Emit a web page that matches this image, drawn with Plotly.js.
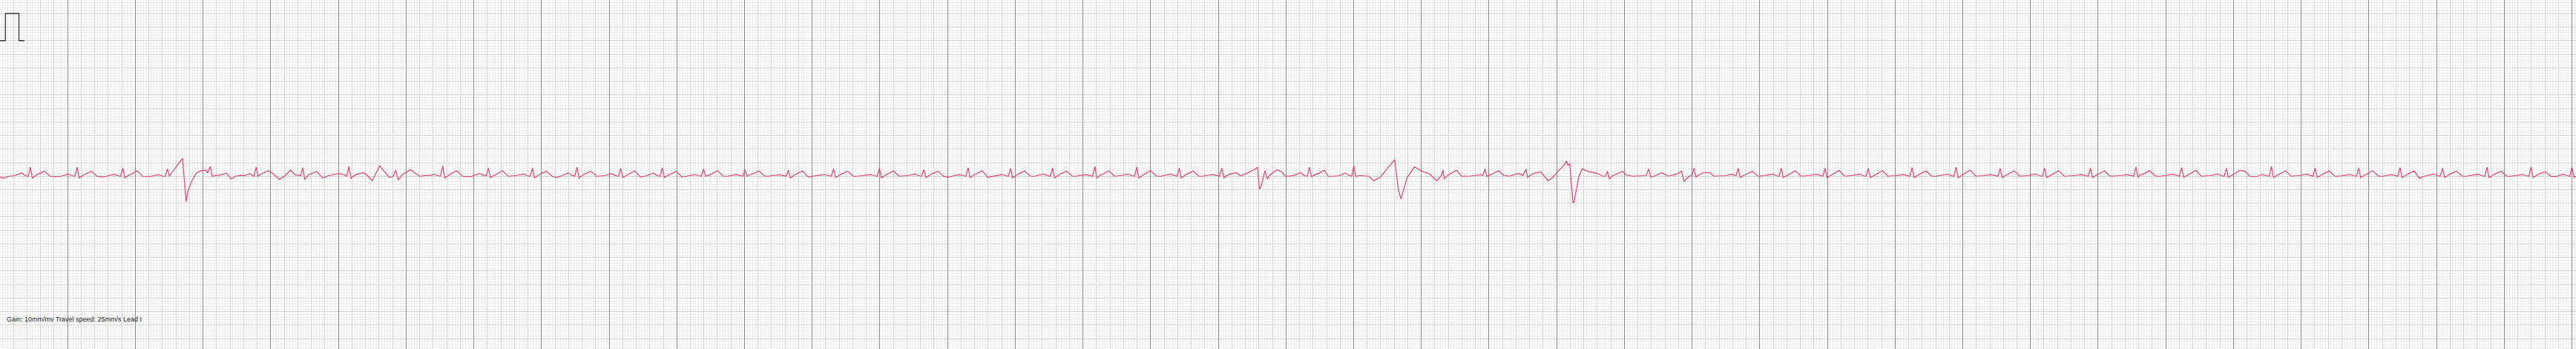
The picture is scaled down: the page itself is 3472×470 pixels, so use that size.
<!DOCTYPE html>
<html><head><meta charset="utf-8">
<script src="https://cdn.plot.ly/plotly-3.0.1.min.js"></script>
<style>html,body{margin:0;padding:0;background:#fff;overflow:hidden}#chart{width:3472px;height:470px}</style>
</head><body><div id="chart"></div>
<script>
// Lead I trace, time in seconds, amplitude in mV (read from the strip)
const tA=[0.000,0.055,0.13,0.22,0.319,0.372,0.416,0.449,0.479,0.526,0.579,0.657,0.739,0.809,
0.900,1.010,1.063,1.107,1.140,1.170,1.217,1.270,1.348,1.430,1.500,
1.576,1.686,1.739,1.783,1.816,1.846,1.893,1.946,2.024,2.106,2.176,
2.235,2.345,2.398,2.442,2.475,2.502,2.696,2.751,2.777,2.831,2.905,2.978,3.040,3.069,
3.106,3.135,3.20,3.28,3.343,3.417,3.48,3.56,3.62,3.691,3.752,
3.785,3.811,3.86,3.965,4.03,4.129,4.20,4.293,4.36,4.441,
4.474,4.502,4.56,4.677,4.768,4.85,4.95,5.006,5.10,5.125,
5.155,5.188,5.25,5.371,5.43,5.499,5.609,5.755,5.81,
5.847,5.884,5.94,6.065,6.193,6.28,6.38,
6.411,6.464,6.508,6.541,6.571,6.618,6.671,6.749,6.831,6.901];
const vA=[-0.03,-0.08,0.0,0.02,0.12,0.02,0.0,0.33,-0.08,0.02,0.10,0.18,0.0,-0.02,
0.0,0.08,0.02,0.0,0.33,-0.07,0.02,0.09,0.18,0.0,-0.03,
0.0,0.07,0.02,0.0,0.30,-0.07,0.02,0.08,0.20,0.0,-0.02,
0.0,0.06,0.0,0.0,0.27,0.0,0.66,-0.94,-0.55,-0.19,0.13,0.20,0.22,0.12,
0.36,0.0,0.02,0.06,0.12,-0.10,0.0,0.03,0.02,0.10,0.0,
0.33,0.0,0.08,0.20,0.10,-0.12,0.0,0.22,0.05,0.02,
0.31,-0.12,0.05,0.18,-0.07,0.02,0.06,0.10,0.04,0.0,
0.36,-0.08,0.05,0.13,0.02,-0.17,0.38,-0.05,0.0,
0.22,-0.14,0.05,0.24,0.0,0.02,0.03,
0.08,0.02,0.0,0.38,-0.07,0.02,0.10,0.20,0.0,-0.02];

const tB=[6.976,7.086,7.139,7.183,7.216,7.246,7.293,7.346,7.424,7.506,7.576,
7.627,7.737,7.790,7.834,7.867,7.897,7.944,7.997,8.075,8.157,8.221,
8.285,8.395,8.448,8.492,8.525,8.555,8.602,8.655,8.733,8.815,8.885,
8.931,9.041,9.094,9.138,9.171,9.201,9.248,9.301,9.379,9.461,9.531,
9.655,9.708,9.752,9.785,9.815,9.862,9.915,9.993,10.075,10.145,
10.265,10.318,10.362,10.395,10.425,10.472,10.525,10.603,10.685,10.755,
10.878,10.931,10.975,11.008,11.038,11.085,11.138,11.216,11.298,11.368,
11.409,11.519,11.572,11.616,11.649,11.679,11.726,11.779,11.857,11.939,12.009,
12.076,12.186,12.239,12.283,12.316,12.346,12.393,12.446,12.524,12.606,12.676,
12.754,12.864,12.917,12.961,12.994,13.024,13.071,13.124,13.202,13.284,13.354,
13.410,13.520,13.573,13.617,13.650,13.680,13.727,13.780,13.858,13.940,14.010,
14.063,14.173,14.226,14.270,14.303,14.333,14.380,14.433,14.511,14.593,14.663,
14.691,14.801,14.854,14.898,14.931,14.961,15.008,15.061,15.139,15.221,15.291,
15.312,15.422,15.475,15.519,15.552,15.582,15.629,15.682,15.760,15.842,15.912,
15.936,16.046,16.099,16.143,16.176,16.206,16.253,16.306,16.384,16.466,16.536,
16.556,16.666,16.719,16.763,16.796,16.826,16.873,16.926,17.004,17.086,17.156,
17.184,17.294,17.347,17.391,17.424,17.454,17.501,17.554,17.632,17.714,17.784,
17.812,17.922,17.975,18.019,18.052,18.082,18.129,18.18,18.269,18.324,
18.415,18.525,18.580,18.609,18.634,18.689,18.725,18.762,18.872,18.941,18.982,19.05,19.12];
const vB=[0.0,0.10,0.03,0.01,0.30,-0.05,0.02,0.08,0.20,0.0,0.0,
0.02,0.08,0.02,0.0,0.30,-0.06,0.02,0.10,0.18,0.0,-0.05,
0.0,0.12,0.03,0.0,0.33,-0.07,0.03,0.10,0.18,0.0,0.0,
0.02,0.09,0.02,0.0,0.29,-0.05,0.02,0.10,0.20,-0.03,0.0,
0.11,0.02,0.0,0.31,-0.05,0.02,0.09,0.18,-0.03,0.0,
0.06,0.02,0.0,0.26,0.0,0.03,0.10,0.20,0.0,0.0,
0.06,0.02,0.0,0.24,0.0,0.06,0.10,0.19,0.0,0.0,
0.02,0.05,0.02,0.0,0.22,-0.07,0.02,0.10,0.19,-0.03,0.0,
0.02,0.06,0.02,0.0,0.27,-0.05,0.02,0.10,0.18,0.0,0.0,
0.02,0.06,0.02,0.0,0.30,-0.06,0.03,0.10,0.19,0.0,0.0,
0.02,0.08,0.02,0.0,0.24,-0.05,0.02,0.10,0.18,0.0,-0.04,
0.0,0.06,0.02,0.0,0.32,-0.05,0.03,0.10,0.20,-0.04,0.0,
0.0,0.06,0.02,0.0,0.29,-0.06,0.02,0.10,0.19,0.0,0.0,
0.02,0.08,0.02,0.0,0.30,-0.06,0.02,0.10,0.18,0.0,0.0,
0.02,0.06,0.03,0.0,0.36,-0.06,0.03,0.10,0.19,0.0,0.0,
0.02,0.08,0.02,0.0,0.33,-0.07,0.02,0.10,0.20,0.0,0.0,
0.02,0.07,0.02,0.0,0.30,-0.07,0.02,0.10,0.18,0.0,0.0,
0.02,0.06,0.02,0.0,0.30,-0.06,0.03,0.08,0.13,0.01,
0.10,0.23,0.33,-0.48,-0.37,0.20,-0.10,0.04,0.24,0.15,0.01,0.0,0.03];

const tC=[19.219,19.270,19.314,19.347,19.377,19.424,19.48,19.566,19.622,19.70,19.80,19.876,19.93,19.971,
20.004,20.030,20.10,20.223,20.297,20.388,
20.607,20.662,20.698,20.728,20.791,20.900,21.009,21.119,21.229,21.29,
21.320,21.339,21.40,21.520,21.594,21.70,21.80,21.87,21.91,
21.941,21.966,22.02,22.142,22.22,22.30,22.434,22.50,
22.547,22.569,22.654,22.764,22.873,22.942,
23.019,23.107,23.147,23.165,23.194,23.240,23.256,23.329,23.377,23.457,23.603,23.68,23.72,
23.750,23.778,23.82,23.969,24.03,24.12,24.25,24.32,
24.359,24.388,24.44,24.553,24.64,24.74,24.81,24.846,24.882,24.955,25.00,
25.028,25.058,25.10,25.175,25.266,25.32,25.504,25.576,25.65];
const vC=[0.13,0.02,0.0,0.33,-0.02,0.05,0.10,0.22,0.0,0.0,0.02,0.12,0.03,0.0,
0.38,0.0,0.02,0.0,-0.17,-0.05,
0.61,-0.51,-0.83,-0.59,-0.05,0.34,0.18,0.09,-0.17,0.0,
0.22,-0.10,0.05,0.22,0.0,0.0,0.02,0.06,0.02,
0.27,0.0,0.05,0.20,0.02,0.0,0.10,0.03,
0.25,-0.05,0.10,0.16,-0.17,-0.05,
0.18,0.40,0.56,0.41,0.45,-0.96,-0.96,0.0,0.27,0.18,0.10,0.0,0.0,
0.18,-0.10,0.0,0.18,0.04,0.0,0.0,0.02,
0.27,-0.03,0.0,0.13,0.0,0.05,0.13,0.18,-0.20,0.0,0.02,
0.30,-0.03,0.05,0.13,0.13,0.0,0.02,0.07,0.02];

const tD=[25.682,25.712,25.759,25.812,25.890,25.972,26.042,
26.078,26.188,26.241,26.285,26.318,26.348,26.395,26.448,26.526,26.608,26.678,
26.725,26.835,26.888,26.932,26.965,26.995,27.042,27.095,27.173,27.255,27.325,
27.364,27.474,27.527,27.571,27.604,27.634,27.681,27.734,27.812,27.894,27.964,
28.011,28.121,28.174,28.218,28.251,28.281,28.328,28.381,28.459,28.541,28.611,
28.662,28.772,28.825,28.869,28.902,28.932,28.979,29.032,29.110,29.192,29.262,
29.312,29.422,29.475,29.519,29.552,29.582,29.629,29.682,29.760,29.842,29.912,
29.969,30.079,30.132,30.176,30.209,30.239,30.286,30.339,30.417,30.499,30.569,
30.646,30.756,30.809,30.853,30.886,30.916,30.963,31.016,31.094,31.176,31.246,
31.318,31.428,31.481,31.525,31.558,31.588,31.62,31.67,31.761,31.848,31.918,
31.994,32.104,32.157,32.201,32.234,32.264,32.311,32.364,32.442,32.524,32.594,
32.655,32.765,32.818,32.862,32.895,32.925,32.972,33.02,33.09,33.17,33.24,33.30,
33.35,33.430,33.483,33.527,33.560,33.590,33.637,33.690,33.768,33.850,33.920,
33.967,34.077,34.130,34.174,34.207,34.237,34.284,34.337,34.415,34.497,34.567,
34.609,34.719,34.772,34.816,34.849,34.879,34.926,34.979,35.057,35.139,35.209,
35.330,35.383,35.427,35.460,35.490,35.537,35.590,35.668,35.750,35.820,
35.848,35.958,36.011,36.055,36.088,36.118,36.165,36.218,36.296,36.378,36.448,
36.506,36.616,36.669,36.713,36.746,36.776,36.823,36.876,36.954,37.036,37.106,
37.157,37.267,37.320,37.364,37.397,37.427,37.474,37.527,37.605,37.687,37.757,
37.870,37.923,37.967,38.000,38.030,38.06];
const vD=[0.29,-0.05,0.02,0.08,0.18,0.0,0.0,
0.02,0.08,0.02,0.0,0.29,-0.05,0.02,0.10,0.20,0.0,0.0,
0.02,0.07,0.02,0.0,0.29,-0.06,0.02,0.10,0.21,0.0,0.0,
0.02,0.08,0.02,0.0,0.29,-0.05,0.02,0.10,0.20,0.0,0.0,
0.02,0.06,0.02,0.0,0.32,-0.05,0.02,0.10,0.19,0.0,0.0,
0.02,0.07,0.02,0.0,0.33,-0.06,0.03,0.10,0.22,0.0,0.0,
0.02,0.06,0.02,0.0,0.29,-0.05,0.02,0.10,0.20,0.0,0.0,
0.02,0.08,0.02,0.0,0.30,-0.05,0.02,0.10,0.20,0.0,0.0,
0.02,0.06,0.02,0.0,0.30,-0.05,0.03,0.10,0.19,0.0,0.0,
0.02,0.06,0.02,0.0,0.34,-0.05,0.05,0.08,0.20,0.0,0.0,
0.02,0.07,0.02,0.0,0.32,-0.05,0.02,0.10,0.21,0.0,0.0,
0.02,0.08,0.02,0.0,0.29,-0.04,0.02,0.10,0.21,0.18,0.0,-0.02,
0.0,0.06,0.02,0.0,0.36,-0.05,0.02,0.10,0.20,0.0,0.0,
0.02,0.07,0.02,0.0,0.30,-0.05,0.02,0.10,0.19,0.0,0.0,
0.02,0.06,0.02,0.0,0.30,-0.05,0.02,0.10,0.20,0.0,0.0,
0.06,0.02,0.0,0.32,-0.05,0.02,0.10,0.19,-0.08,0.0,
0.02,0.08,0.02,0.0,0.30,-0.05,0.02,0.10,0.18,0.0,0.0,
0.02,0.07,0.02,0.0,0.33,-0.05,0.02,0.10,0.18,0.0,0.0,
0.02,0.06,0.02,0.0,0.34,-0.05,0.02,0.10,0.16,0.0,-0.02,
0.07,0.02,0.0,0.33,-0.05,0.0];

// 1 mV calibration pulse (0.2 s wide)
const calT=[0,0.08,0.08,0.28,0.28,0.36];
const calMv=[5,5,6,6,5,5];

const footerText="Gain: 10mm/mv Travel speed: 25mm/s Lead I";
const xRange=[0,38.06];
const yRange=[-6.377,6.5];

const ecgT=tA.concat(tB,tC,tD);
const ecgV=vA.concat(vB,vC,vD);

const data=[
 {x:ecgT,y:ecgV,type:'scatter',mode:'lines',line:{color:'#e4416b',width:1.2},xaxis:'x',yaxis:'y',hoverinfo:'skip'},
 {x:calT,y:calMv,type:'scatter',mode:'lines',line:{color:'#333333',width:1.3},xaxis:'x2',yaxis:'y',hoverinfo:'skip'}
];
const fine='#eeeeee', mid='#d4d4d4', dark='#8a8a8a';
const layout={
 width:3472,height:470,margin:{l:0,r:0,t:0,b:0,pad:0},
 paper_bgcolor:'#ffffff',plot_bgcolor:'#ffffff',showlegend:false,
 xaxis:{range:xRange,tick0:0,dtick:0.2,showgrid:true,gridcolor:mid,gridwidth:1,
   minor:{tick0:0,dtick:0.04,showgrid:true,gridcolor:fine,gridwidth:1},
   showticklabels:false,ticks:'',zeroline:false,showline:false,fixedrange:true},
 xaxis2:{overlaying:'x',range:xRange,tick0:0,dtick:1,showgrid:true,gridcolor:dark,gridwidth:1,
   showticklabels:false,ticks:'',zeroline:false,showline:false,fixedrange:true},
 yaxis:{range:yRange,tick0:0,dtick:0.5,showgrid:true,gridcolor:mid,gridwidth:1,
   minor:{tick0:0,dtick:0.1,showgrid:true,gridcolor:fine,gridwidth:1},
   showticklabels:false,ticks:'',zeroline:false,showline:false,fixedrange:true},
 annotations:[{text:footerText,xref:'paper',yref:'paper',x:7/3472,y:40/470,xanchor:'left',yanchor:'middle',
   showarrow:false,font:{family:'"Liberation Sans", Arial, sans-serif',size:9,color:'#222222'}}]
};
Plotly.newPlot('chart',data,layout,{staticPlot:true,displayModeBar:false});
</script></body></html>
